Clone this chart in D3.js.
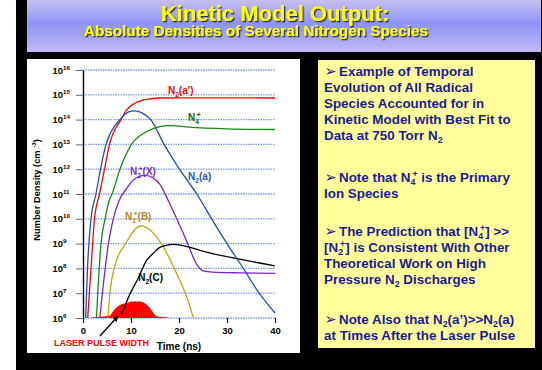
<!DOCTYPE html>
<html>
<head>
<meta charset="utf-8">
<script src="https://cdn.jsdelivr.net/npm/d3@7"></script>
<style>
  html, body { margin: 0; padding: 0; background: #fff; }
  svg { display: block; font-family: "Liberation Sans", Arial, sans-serif; font-weight: bold; }
</style>
</head>
<body>
<svg id="chart" width="542" height="370"></svg>
<script>
// axis ticks
const decades = [6, 7, 8, 9, 10, 11, 12, 13, 14, 15, 16];
const timeTicks = [0, 10, 20, 30, 40];

// time (ns) and log10 of density (cm^-3)
const aPrimeT   = [0.98, 1.67, 2.4, 3.44, 4.48, 5.52, 7.92, 9.1, 10.8, 13.3, 16, 20.2, 30, 40];
const aPrimeLog = [6, 8, 10, 11, 12, 13, 14, 14.39, 14.66, 14.82, 14.87, 14.88, 14.88, 14.87];

const aT   = [0.56, 0.94, 1.67, 2.7, 3.65, 4.8, 5.83, 7.7, 9.4, 10.8, 12.2, 14.1, 16.9, 20.1, 23.7, 26.8, 30, 33.4, 36.7, 40];
const aLog = [6, 8, 10, 11, 12, 13, 13.5, 14, 14.3, 14.35, 14.28, 14, 13, 12, 11, 10, 9, 8, 7, 6.2];

const n4T   = [2.8, 3.75, 4.6, 5.4, 6.05, 7.7, 10.1, 13.3, 16, 18.1, 22, 30, 40];
const n4Log = [6, 9, 10, 10.7, 11, 12, 13, 13.52, 13.72, 13.76, 13.7, 13.63, 13.6];

const xT   = [3.5, 5.3, 6.3, 7.6, 9.1, 10.5, 12.9, 14.6, 16, 17.8, 21.2, 24, 25, 27, 33, 40];
const xLog = [6, 9, 10, 10.77, 11.23, 11.56, 11.75, 11.65, 11.4, 10.72, 9.28, 8.07, 7.9, 7.85, 7.82, 7.8];

const bT   = [5.2, 5.6, 6.5, 7.7, 8.9, 10.3, 12, 13.5, 14.7, 16.7, 19.5, 21.6, 23];
const bLog = [6, 7, 8, 8.65, 9.0, 9.45, 9.72, 9.62, 9.41, 8.88, 7.8, 6.86, 6.0];

const cT   = [8, 8.4, 9.5, 11.5, 13.3, 14.6, 16, 16.7, 18.8, 22.3, 25.5, 32.7, 40];
const cLog = [6.15, 6.32, 6.85, 7.6, 8.34, 8.6, 8.85, 8.9, 8.97, 8.85, 8.67, 8.37, 8.1];

// laser pulse profile (arbitrary height on the same axis)
const pulseT   = [1.8, 5.6, 6.25, 7.7, 9.1, 10.1, 11.9, 12.9, 14, 15, 16, 17.7];
const pulseLog = [6.02, 6.1, 6.27, 6.52, 6.6, 6.67, 6.67, 6.59, 6.39, 6.12, 6.04, 6.02];

const svg = d3.select('#chart');

// background and panels
svg.append('rect').attr('x', 16).attr('y', 0).attr('width', 526).attr('height', 370).attr('fill', '#000');

const defs = svg.append('defs');
const grad = defs.append('linearGradient').attr('id', 'titleGrad')
  .attr('x1', 0).attr('y1', 0).attr('x2', 0).attr('y2', 1);
grad.append('stop').attr('offset', '0%').attr('stop-color', '#c8bff1');
grad.append('stop').attr('offset', '45%').attr('stop-color', '#8c94f6');
grad.append('stop').attr('offset', '100%').attr('stop-color', '#c3b8f0');

defs.append('filter').attr('id', 'shadow').attr('x', '-5%').attr('y', '-20%')
  .attr('width', '110%').attr('height', '150%')
  .append('feDropShadow').attr('dx', 1.3).attr('dy', 1.3).attr('stdDeviation', 0.4)
  .attr('flood-color', '#1a1a2a').attr('flood-opacity', 0.9);

svg.append('rect').attr('x', 27).attr('y', 0).attr('width', 514).attr('height', 52).attr('fill', 'url(#titleGrad)');
svg.append('rect').attr('x', 27).attr('y', 59).attr('width', 273).attr('height', 294).attr('fill', '#fff');
svg.append('rect').attr('x', 318).attr('y', 60).attr('width', 217).attr('height', 288).attr('fill', '#ffff9c');

function titleText(x, y, size, str) {
  svg.append('text').attr('x', x).attr('y', y).attr('font-size', size)
    .attr('text-anchor', 'middle').attr('fill', '#ffff00')
    .attr('filter', 'url(#shadow)').text(str);
}
titleText(275, 21, 22, 'Kinetic Model Output:');
titleText(256, 35.5, 15.3, 'Absolute Densities of Several Nitrogen Species');

// text with sub/superscripts; parts are [string, kind]
function rich(sel, x, y, parts, size, subK = 0.3, supK = 0.42) {
  const text = sel.append('text').attr('x', x).attr('y', y).attr('font-size', size);
  let off = 0;
  parts.forEach(([s, k]) => {
    const target = k === 'sub' ? subK * size : (k === 'sup' || k === 'stk') ? -supK * size : 0;
    const ts = text.append('tspan').attr('dy', target - off).text(s);
    if (k !== 'n') ts.attr('font-size', 0.66 * size);
    if (k === 'stk') ts.attr('dx', -0.22 * size);
    off = target;
  });
  return text;
}

// scales
const x = d3.scaleLinear().domain([0, 40]).range([83, 275]);
const y = d3.scaleLog().domain([1e6, 1e16]).range([318, 70]);

const plot = svg.append('g');
defs.append('clipPath').attr('id', 'plotClip').append('rect')
  .attr('x', 83).attr('y', 66).attr('width', 196).attr('height', 253);

// gridlines
plot.append('g').selectAll('line').data(decades).join('line')
  .attr('x1', x(0)).attr('x2', x(40))
  .attr('y1', d => y(10 ** d)).attr('y2', d => y(10 ** d))
  .attr('stroke', '#5b7ff2').attr('stroke-width', 1.3)
  .attr('stroke-dasharray', '1.5,1').attr('opacity', 0.8);

// y axis
const yAxis = plot.append('g').attr('transform', `translate(${x(0)},0)`)
  .call(d3.axisLeft(y).tickValues(decades.map(d => 10 ** d)).tickFormat('').tickSize(7).tickSizeOuter(0));
yAxis.select('.domain').attr('stroke', '#000').attr('stroke-width', 1.4);
yAxis.selectAll('.tick line').attr('stroke', '#666');

decades.forEach(d => {
  rich(plot, 52.5, y(10 ** d) + 3.5, [['10', 'n'], [String(d), 'sup']], 9.4)
    .attr('fill', '#000');
});

// x axis
const xAxis = plot.append('g').attr('transform', `translate(0,${y(1e6)})`)
  .call(d3.axisBottom(x).tickValues(timeTicks).tickSize(5).tickSizeOuter(0));
xAxis.select('.domain').remove();
xAxis.selectAll('.tick line').attr('stroke', '#000').attr('stroke-width', 1.2);
xAxis.selectAll('.tick text').attr('font-size', 9.5).attr('font-family', null)
  .attr('font-weight', 'bold').attr('dy', '0.85em').attr('fill', '#000');

plot.append('text').attr('x', 179).attr('y', 350).attr('font-size', 10)
  .attr('text-anchor', 'middle').text('Time (ns)');

const yLab = rich(plot, 0, 0, [['Number Density (cm ', 'n'], ['-3', 'sup'], [')', 'n']], 9.3);
yLab.attr('transform', 'translate(40,190) rotate(-90)').attr('text-anchor', 'middle');

// laser pulse
const pulse = pulseT.map((t, i) => [t, pulseLog[i]]);
plot.append('path').datum(pulse)
  .attr('d', d3.area().x(d => x(d[0])).y0(y(1e6)).y1(d => y(10 ** d[1])).curve(d3.curveMonotoneX))
  .attr('fill', '#ff0000');

// species curves
const series = [
  { t: aPrimeT, v: aPrimeLog, color: '#ff0000' },
  { t: aT, v: aLog, color: '#1e50b4' },
  { t: n4T, v: n4Log, color: '#138a13' },
  { t: xT, v: xLog, color: '#7a24c6' },
  { t: bT, v: bLog, color: '#b3aa0c' },
  { t: cT, v: cLog, color: '#000000' }
];
const line = d3.line().x(d => x(d[0])).y(d => y(10 ** d[1])).curve(d3.curveMonotoneX);
const curves = plot.append('g').attr('clip-path', 'url(#plotClip)');
series.forEach(s => {
  curves.append('path').datum(s.t.map((t, i) => [t, s.v[i]]))
    .attr('d', line).attr('fill', 'none')
    .attr('stroke', s.color).attr('stroke-width', 1.3);
});

// curve labels, anchored in data coordinates
const labels = [
  { parts: [['N', 'n'], ['2', 'sub'], ["(a')", 'n']], t: 17.7, e: 15.03, color: '#ff0000' },
  { parts: [['N', 'n'], ['4', 'sub'], ['+', 'stk']], t: 21.9, e: 13.94, color: '#1b5e20' },
  { parts: [['N', 'n'], ['2', 'sub'], ['(a)', 'n']], t: 21.9, e: 11.56, color: '#2a56b6' },
  { parts: [['N', 'n'], ['2', 'sub'], ['+', 'stk'], ['(X)', 'n']], t: 9.8, e: 11.77, color: '#7a2fc2' },
  { parts: [['N', 'n'], ['2', 'sub'], ['+', 'stk'], ['(B)', 'n']], t: 8.75, e: 9.95, color: '#b8882a' },
  { parts: [['N', 'n'], ['2', 'sub'], ['(C)', 'n']], t: 11.5, e: 7.5, color: '#000' }
];
labels.forEach(l => {
  rich(plot, x(l.t), y(10 ** l.e), l.parts, 10).attr('fill', l.color);
});

// laser pulse annotation
defs.append('marker').attr('id', 'arrow').attr('viewBox', '0 0 10 10')
  .attr('refX', 9).attr('refY', 5).attr('markerWidth', 6).attr('markerHeight', 6)
  .attr('markerUnits', 'userSpaceOnUse').attr('orient', 'auto')
  .append('path').attr('d', 'M0,0L10,5L0,10z').attr('fill', '#000');
plot.append('line').attr('x1', 100).attr('y1', 336).attr('x2', x(7.3)).attr('y2', 316)
  .attr('stroke', '#000').attr('stroke-width', 1.3).attr('marker-end', 'url(#arrow)');
plot.append('text').attr('x', 101.5).attr('y', 346).attr('font-size', 9)
  .attr('text-anchor', 'middle').attr('fill', '#ff0000').text('LASER PULSE WIDTH');

// notes box
const notes = [
  { y: 75.5, lines: [
    [['Example of Temporal', 'n']],
    [['Evolution of All Radical', 'n']],
    [['Species Accounted for in', 'n']],
    [['Kinetic Model with Best Fit to', 'n']],
    [['Data at 750 Torr N', 'n'], ['2', 'sub']]
  ] },
  { y: 181.5, lines: [
    [['Note that N', 'n'], ['4', 'sub'], ['+', 'stk'], [' is the Primary', 'n']],
    [['Ion Species', 'n']]
  ] },
  { y: 236, lines: [
    [['The Prediction that [N', 'n'], ['4', 'sub'], ['+', 'stk'], ['] >>', 'n']],
    [['[N', 'n'], ['2', 'sub'], ['+', 'stk'], ['] is Consistent With Other', 'n']],
    [['Theoretical Work on High', 'n']],
    [['Pressure N', 'n'], ['2', 'sub'], [' Discharges', 'n']]
  ] },
  { y: 324, lines: [
    [['Note Also that N', 'n'], ['2', 'sub'], ['(a’)>>N', 'n'], ['2', 'sub'], ['(a)', 'n']],
    [['at Times After the Laser Pulse', 'n']]
  ] }
];
const box = svg.append('g').attr('fill', '#1b1b8f');
notes.forEach(block => {
  box.append('text').attr('x', 324.5).attr('y', block.y).attr('font-size', 14.5)
    .attr('font-family', 'DejaVu Sans').text('➢');
  block.lines.forEach((ln, i) => {
    rich(box, i === 0 ? 339 : 324, block.y + i * 16, ln, 13.4, 0.24, 0.34);
  });
});
</script>
</body>
</html>
